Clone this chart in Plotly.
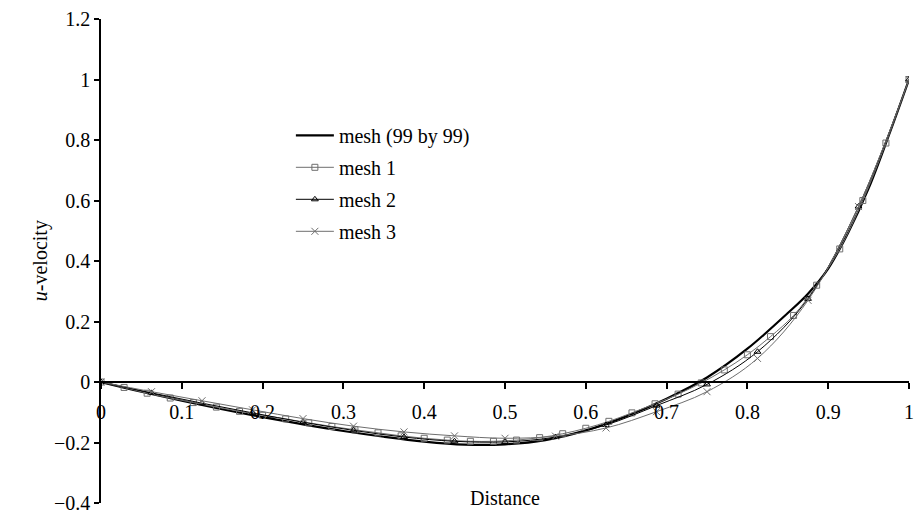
import plotly.graph_objects as go

# Reference solution (99 by 99 mesh)
ref_x = [0.0, 0.05, 0.1, 0.15, 0.2, 0.25, 0.3, 0.35, 0.4, 0.45, 0.5, 0.55, 0.6, 0.65, 0.7, 0.75, 0.8, 0.85, 0.875, 0.9, 0.925, 0.95, 0.975, 1.0]
ref_u = [0.0, -0.032, -0.062, -0.09, -0.116, -0.14, -0.162, -0.181, -0.197, -0.207, -0.206, -0.192, -0.16, -0.113, -0.055, 0.015, 0.11, 0.228, 0.292, 0.375, 0.495, 0.64, 0.815, 1.0]

# mesh 1 (squares), 36 points
m1_x = [k / 35 for k in range(36)]
m1_u = [0.0, -0.018, -0.037, -0.053, -0.068, -0.083, -0.097, -0.11, -0.122, -0.135,
        -0.147, -0.158, -0.168, -0.178, -0.186, -0.192, -0.196, -0.196, -0.192, -0.184,
        -0.171, -0.153, -0.13, -0.102, -0.072, -0.04, -0.003, 0.04, 0.09, 0.15,
        0.22, 0.32, 0.44, 0.60, 0.79, 1.0]

# mesh 2 (triangles)
m2_x = [0.0, 0.0625, 0.125, 0.1875, 0.25, 0.3125, 0.375, 0.4375, 0.5, 0.5625, 0.625, 0.6875, 0.75, 0.8125, 0.875, 0.9375, 1.0]
m2_u = [0.0, -0.036, -0.07, -0.102, -0.133, -0.16, -0.182, -0.196, -0.198, -0.182, -0.142, -0.078, -0.008, 0.1, 0.275, 0.58, 1.0]

# mesh 3 (crosses)
m3_x = [0.0, 0.0625, 0.125, 0.1875, 0.25, 0.3125, 0.375, 0.4375, 0.5, 0.5625, 0.625, 0.6875, 0.75, 0.8125, 0.875, 0.9375, 1.0]
m3_u = [0.0, -0.032, -0.062, -0.092, -0.121, -0.146, -0.165, -0.178, -0.186, -0.179, -0.152, -0.098, -0.032, 0.078, 0.27, 0.58, 1.0]

x_ticks = [0, 0.1, 0.2, 0.3, 0.4, 0.5, 0.6, 0.7, 0.8, 0.9, 1]
y_ticks = [-0.4, -0.2, 0, 0.2, 0.4, 0.6, 0.8, 1, 1.2]

FONT = "Liberation Serif, Times New Roman, serif"
GRAY = "#6e6e6e"

fig = go.Figure()
fig.add_trace(go.Scatter(x=ref_x, y=ref_u, mode="lines", name="mesh (99 by 99)",
                         line=dict(color="black", width=2.2, shape="spline"), legendgroup="a"))
fig.add_trace(go.Scatter(x=m1_x, y=m1_u, mode="lines+markers", name="mesh 1",
                         line=dict(color=GRAY, width=1, shape="spline"),
                         marker=dict(symbol="square-open", size=6, color=GRAY, line=dict(width=1)),
                         legendgroup="b"))
fig.add_trace(go.Scatter(x=m2_x, y=m2_u, mode="lines+markers", name="mesh 2",
                         line=dict(color="black", width=1, shape="spline"),
                         marker=dict(symbol="triangle-up-open", size=6, color="black", line=dict(width=1)),
                         legendgroup="c"))
fig.add_trace(go.Scatter(x=m3_x, y=m3_u, mode="lines+markers", name="mesh 3",
                         line=dict(color=GRAY, width=1, shape="spline"),
                         marker=dict(symbol="x-thin", size=7, color=GRAY, line=dict(width=1, color=GRAY)),
                         legendgroup="d"))

fig.update_layout(
    width=922, height=523,
    margin=dict(l=101, r=8, t=15, b=20),
    paper_bgcolor="white", plot_bgcolor="white",
    font=dict(family=FONT, size=20, color="black"),
    showlegend=True,
    legend=dict(x=0.235, y=0.8, xanchor="left", yanchor="top",
                bgcolor="rgba(0,0,0,0)", font=dict(size=20, family=FONT),
                tracegroupgap=3, traceorder="grouped", itemwidth=38),
    xaxis=dict(range=[0, 1], tickvals=x_ticks, ticktext=[str(v) for v in x_ticks],
               showgrid=False, zeroline=False, showline=True, linecolor="black", linewidth=1.5,
               ticks="outside", ticklen=6, tickwidth=1.5, tickcolor="black",
               anchor="free", position=0.25, ticklabelstandoff=6,
               tickfont=dict(size=20, family=FONT)),
    yaxis=dict(range=[-0.4, 1.2], tickvals=y_ticks,
               showgrid=False, zeroline=False, showline=True, linecolor="black", linewidth=1.5,
               ticks="outside", ticklen=5, tickwidth=1.5, tickcolor="black",
               tickfont=dict(size=20, family=FONT)),
    annotations=[
        dict(text="Distance", x=0.5, xref="paper", y=(503 - 511) / 488.0, yref="paper",
             showarrow=False, font=dict(size=20, family=FONT)),
        dict(text="<i>u</i>-velocity", x=-0.092, xref="paper", y=0.5, yref="paper",
             textangle=-90, showarrow=False, font=dict(size=20, family=FONT)),
    ],
)

fig.write_html("out.html")
